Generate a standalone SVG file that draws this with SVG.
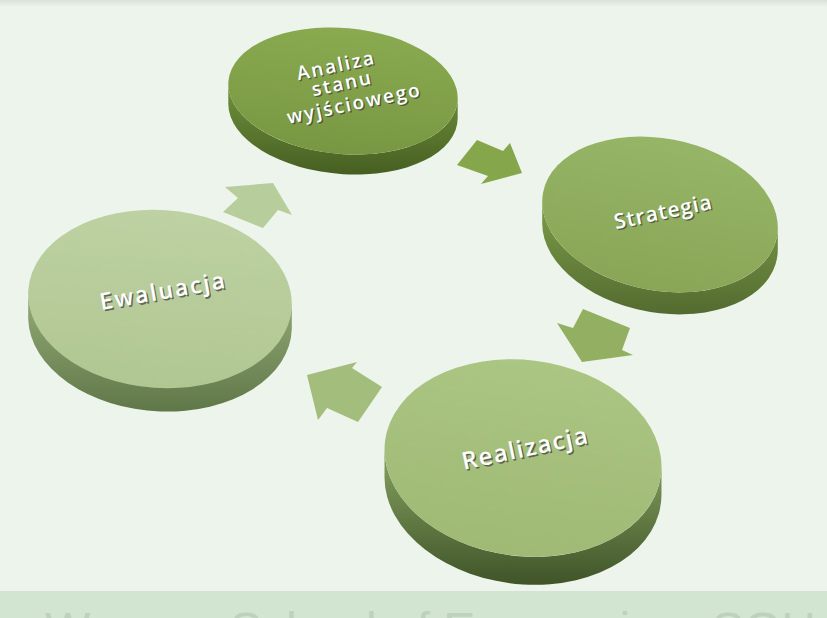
<svg xmlns="http://www.w3.org/2000/svg" width="827" height="618" viewBox="0 0 827 618">
<defs>
<linearGradient id="topband" x1="0" y1="0" x2="0" y2="1">
<stop offset="0" stop-color="#d9e1d9"/><stop offset="1" stop-color="#ecf4eb"/>
</linearGradient>
<linearGradient id="t1" x1="0" y1="0" x2="0" y2="1"><stop offset="0" stop-color="#8aaa50"/><stop offset="1" stop-color="#789742"/></linearGradient>
<linearGradient id="s1" gradientUnits="userSpaceOnUse" x1="0" y1="90" x2="0" y2="175"><stop offset="0" stop-color="#6e8e3a"/><stop offset="1" stop-color="#465f22"/></linearGradient>
<linearGradient id="t2" x1="0" y1="0" x2="0" y2="1"><stop offset="0" stop-color="#97b566"/><stop offset="1" stop-color="#88a656"/></linearGradient>
<linearGradient id="s2" gradientUnits="userSpaceOnUse" x1="0" y1="210" x2="0" y2="312"><stop offset="0" stop-color="#7a9848"/><stop offset="1" stop-color="#546c30"/></linearGradient>
<linearGradient id="t3" x1="0" y1="0" x2="0" y2="1"><stop offset="0" stop-color="#abc582"/><stop offset="1" stop-color="#9fba75"/></linearGradient>
<linearGradient id="s3" gradientUnits="userSpaceOnUse" x1="0" y1="450" x2="0" y2="585"><stop offset="0" stop-color="#86a362"/><stop offset="1" stop-color="#3f5428"/></linearGradient>
<linearGradient id="t4" x1="0" y1="0" x2="0" y2="1"><stop offset="0" stop-color="#bdd1a2"/><stop offset="1" stop-color="#b1c792"/></linearGradient>
<linearGradient id="s4" gradientUnits="userSpaceOnUse" x1="0" y1="290" x2="0" y2="413"><stop offset="0" stop-color="#95ad78"/><stop offset="1" stop-color="#5f7648"/></linearGradient>
<style>
.lbl{font-family:"Open Sans","Noto Sans","DejaVu Sans",sans-serif;font-weight:600;fill:#ffffff;text-anchor:middle;dominant-baseline:central;}
.sh{font-family:"Open Sans","Noto Sans","DejaVu Sans",sans-serif;font-weight:600;fill:#3c3c3c;fill-opacity:0.7;text-anchor:middle;dominant-baseline:central;}
.foot{font-family:"Liberation Sans",Arial,sans-serif;font-size:48px;fill:#bed1be;}
</style>
</defs>
<rect x="0" y="0" width="827" height="618" fill="#ecf4eb"/>
<rect x="0" y="0" width="827" height="7" fill="url(#topband)"/>
<rect x="0" y="591" width="827" height="27" fill="#d1e5d1"/>
<text class="foot" x="45" y="646">Warsaw School of Economics <tspan x="712">SGH</tspan></text>

<g id="connectors">
<polygon points="477,140 503,151 510,143 522,173 481,184 488,176 457,165" fill="#86a64c"/>
<polygon points="557,323 573,328 583,309 630,328 622,350 633,355 582,362" fill="#93b062"/>
<polygon points="307,375 357,362 352,368 382,387 358,422 327,408 318,420" fill="#a3be7c"/>
<polygon points="225,187 273,183 292,215 278,210 263,228 223,212 238,198" fill="#b8cd9c"/>
</g>

<g id="node-analiza">
<path d="M228.3,84 L228.3,104 A115,63 5 0 0 457.7,118 L457.7,98 A115,63 5 0 1 228.3,84 Z" fill="url(#s1)"/>
<ellipse cx="343" cy="91" rx="115" ry="63" transform="rotate(5 343 91)" fill="url(#t1)"/>
<g font-size="19" letter-spacing="2">
<text class="sh" x="337.2" y="66.5" transform="rotate(-12 336 65)">Analiza</text>
<text class="lbl" x="336" y="65" transform="rotate(-12 336 65)">Analiza</text>
<text class="sh" x="343.2" y="84.5" transform="rotate(-12 342 83)">stanu</text>
<text class="lbl" x="342" y="83" transform="rotate(-12 342 83)">stanu</text>
<text class="sh" x="355.2" y="104.5" transform="rotate(-12 354 103)">wyjściowego</text>
<text class="lbl" x="354" y="103" transform="rotate(-12 354 103)">wyjściowego</text>
</g>
</g>

<g id="node-strategia">
<path d="M542.2,201.5 L542.2,223.5 A119,76 10.7 0 0 777.8,249.5 L777.8,227.5 A119,76 10.7 0 1 542.2,201.5 Z" fill="url(#s2)"/>
<ellipse cx="660" cy="214.5" rx="119" ry="76" transform="rotate(10.7 660 214.5)" fill="url(#t2)"/>
<g font-size="21" letter-spacing="1">
<text class="sh" x="664.2" y="212.5" transform="rotate(-12 663 211)">Strategia</text>
<text class="lbl" x="663" y="211" transform="rotate(-12 663 211)">Strategia</text>
</g>
</g>

<g id="node-realizacja">
<path d="M384.5,449.5 L384.5,477.5 A139,98 7 0 0 661.5,494.5 L661.5,466.5 A139,98 7 0 1 384.5,449.5 Z" fill="url(#s3)"/>
<ellipse cx="523" cy="458" rx="139" ry="98" transform="rotate(7 523 458)" fill="url(#t3)"/>
<g font-size="24" letter-spacing="1.5">
<text class="sh" x="526.3" y="448.8" transform="rotate(-12 525 447)">Realizacja</text>
<text class="lbl" x="525" y="447" transform="rotate(-12 525 447)">Realizacja</text>
</g>
</g>

<g id="node-ewaluacja">
<path d="M28.2,294 L28.2,319 A132,89 4 0 0 291.8,329 L291.8,304 A132,89 4 0 1 28.2,294 Z" fill="url(#s4)"/>
<ellipse cx="160" cy="299" rx="132" ry="89" transform="rotate(4 160 299)" fill="url(#t4)"/>
<g font-size="23" letter-spacing="2">
<text class="sh" x="164.3" y="291.8" transform="rotate(-10 163 290)">Ewaluacja</text>
<text class="lbl" x="163" y="290" transform="rotate(-10 163 290)">Ewaluacja</text>
</g>
</g>
</svg>
